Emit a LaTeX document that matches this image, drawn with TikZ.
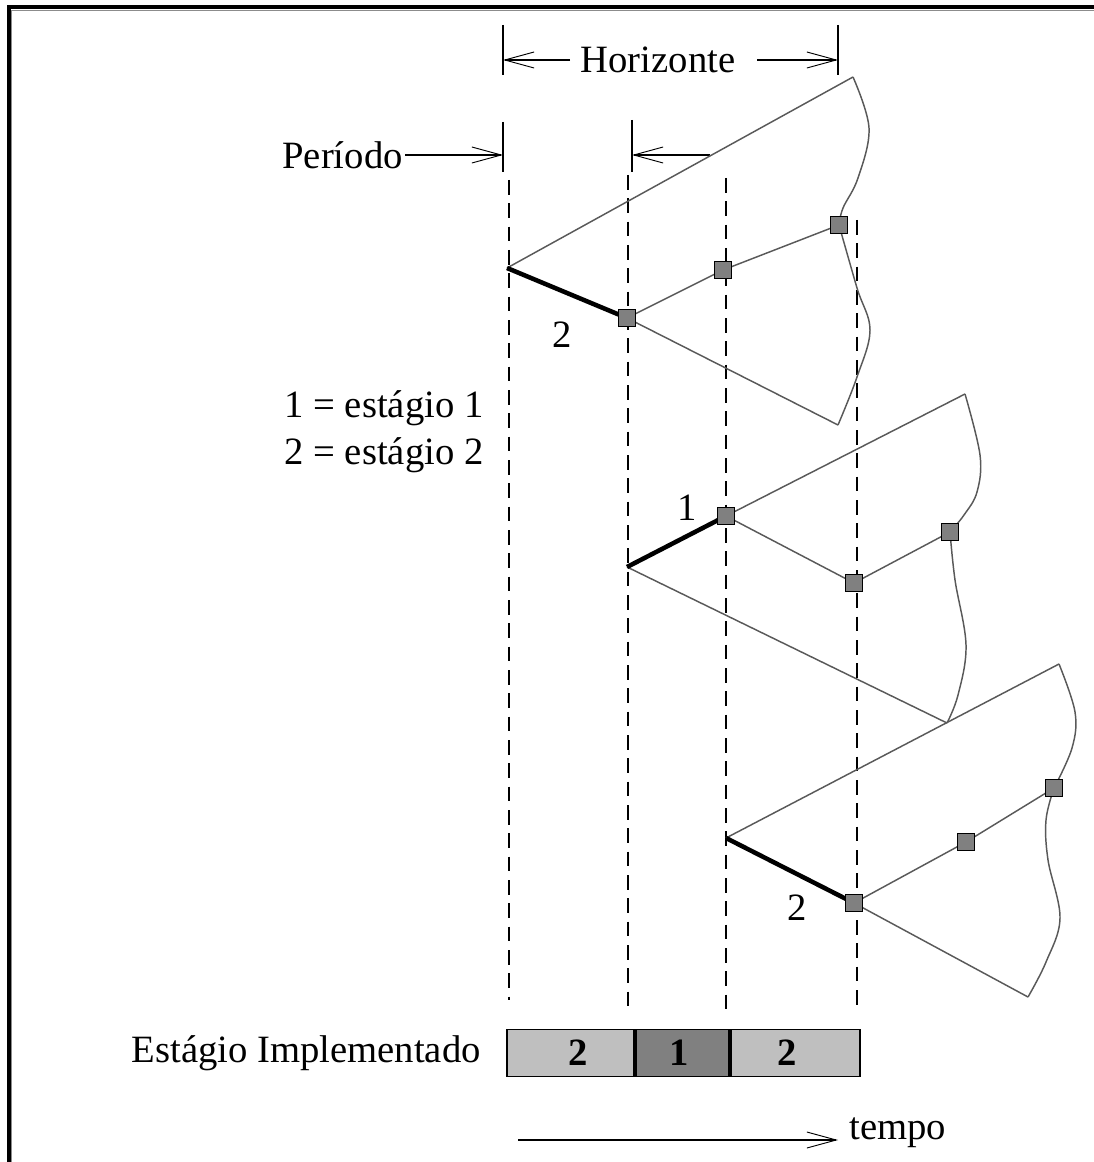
\documentclass[tikz,border=0pt]{standalone}
\usepackage{fontspec}
\setmainfont{Liberation Serif}
\usetikzlibrary{arrows.meta}
\begin{document}
\begin{tikzpicture}[x=0.75pt,y=-0.75pt,
  txt/.style={font=\fontsize{29}{34}\selectfont, inner sep=0pt},
  edge/.style={draw=black!65, line width=1.1pt},
  thickedge/.style={draw=black, line width=3.4pt},
  guide/.style={draw=black, line width=1.8pt, dash pattern=on 11pt off 6.5pt},
  sq/.style={draw=black, fill=black!50, line width=1.1pt, minimum size=12.5pt, inner sep=0pt},
  tickline/.style={line width=1.6pt},
  dim/.style={line width=1.3pt, -{Straight Barb[length=22pt,width=12pt,line width=0.7pt]}},
  barcell/.style={draw=black, line width=1.4pt, minimum height=35.25pt, inner sep=0pt, anchor=west, font=\fontsize{29}{34}\selectfont\bfseries},
]
\useasboundingbox (0,0) rectangle (1094,1162);
% frame
\draw[black!45, line width=0.9pt] (11,1162) -- (11,10.5) -- (1094,10.5);
\draw[line width=3pt] (8.5,1162) -- (8.5,7) -- (1094,7);

% dashed guides
\coordinate (g1a) at (509,180); \coordinate (g1b) at (509,1000);
\coordinate (g2a) at (628,175); \coordinate (g2b) at (628,1015);
\coordinate (g3a) at (726,178); \coordinate (g3b) at (726,1015);
\coordinate (g4a) at (857,220); \coordinate (g4b) at (857,1005);
\draw[guide] (g1a) -- (g1b);
\draw[guide] (g2a) -- (g2b);
\draw[guide] (g3a) -- (g3b);
\draw[guide] (g4a) -- (g4b);

% Horizonte
\coordinate (h0t) at (503,25); \coordinate (h0b) at (503,75);
\coordinate (h1t) at (838,25); \coordinate (h1b) at (838,75);
\draw[tickline] (h0t) -- (h0b);
\draw[tickline] (h1t) -- (h1b);
\node[txt] (hz) at (658,60) {Horizonte};
\coordinate (hl0) at (570,60); \coordinate (hl1) at (503,60);
\coordinate (hr0) at (757,60); \coordinate (hr1) at (838,60);
\draw[dim] (hl0) -- (hl1);
\draw[dim] (hr0) -- (hr1);

% Periodo
\coordinate (p0t) at (503,122); \coordinate (p0b) at (503,172);
\coordinate (p1t) at (632,120); \coordinate (p1b) at (632,172);
\draw[tickline] (p0t) -- (p0b);
\draw[tickline] (p1t) -- (p1b);
\node[txt, anchor=east] (per) at (403,155) {Período};
\coordinate (pa0) at (405,155); \coordinate (pa1) at (503,155);
\coordinate (pb0) at (710,155); \coordinate (pb1) at (632,155);
\draw[dim] (pa0) -- (pa1);
\draw[dim] (pb0) -- (pb1);

% Triangle 1
\coordinate (a1) at (507,268);
\coordinate (u1) at (853,77);
\coordinate (d1) at (838,425);
\coordinate (c11) at (627,318);
\coordinate (c12) at (723,270);
\coordinate (c13) at (839,225);
\draw[edge] (a1) -- (u1);
\draw[edge] (c11) -- (d1);
\draw[edge] (c11) -- (c12) -- (c13);
\draw[edge] plot[smooth, tension=0.6] coordinates {(u1) (869,128) (858,178) (843,208) (c13)};
\draw[edge] plot[smooth, tension=0.6] coordinates {(c13) (857,288) (870,330) (857,377) (d1)};
\draw[thickedge] (a1) -- (c11);
\node[sq] (s11) at (c11) {};
\node[sq] (s12) at (c12) {};
\node[sq] (s13) at (c13) {};
\node[txt] (l1) at (562,335) {2};

% Triangle 2
\coordinate (a2) at (627,567);
\coordinate (u2) at (965,394);
\coordinate (d2) at (947,723);
\coordinate (c21) at (726,516);
\coordinate (c22) at (854,583);
\coordinate (c23) at (950,532);
\draw[edge] (c21) -- (u2);
\draw[edge] (a2) -- (d2);
\draw[edge] (c21) -- (c22) -- (c23);
\draw[edge] plot[smooth, tension=0.6] coordinates {(u2) (980,455) (977,492) (964,515) (c23)};
\draw[edge] plot[smooth, tension=0.6] coordinates {(c23) (955,580) (966,645) (958,695) (d2)};
\draw[thickedge] (a2) -- (c21);
\node[sq] (s21) at (c21) {};
\node[sq] (s22) at (c22) {};
\node[sq] (s23) at (c23) {};
\node[txt] (l2) at (687,508) {1};

% Triangle 3
\coordinate (a3) at (726,838);
\coordinate (u3) at (1059,664);
\coordinate (d3) at (1028,997);
\coordinate (c31) at (854,903);
\coordinate (c32) at (966,842);
\coordinate (c33) at (1054,788);
\draw[edge] (a3) -- (u3);
\draw[edge] (c31) -- (d3);
\draw[edge] (c31) -- (c32) -- (c33);
\draw[edge] plot[smooth, tension=0.6] coordinates {(u3) (1075,712) (1072,748) (c33)};
\draw[edge] plot[smooth, tension=0.6] coordinates {(c33) (1046,820) (1048,860) (1060,918) (1046,962) (d3)};
\draw[thickedge] (a3) -- (c31);
\node[sq] (s31) at (c31) {};
\node[sq] (s32) at (c32) {};
\node[sq] (s33) at (c33) {};
\node[txt] (l3) at (797,908) {2};

% legend
\node[txt] (leg1) at (384,408) {1 = estágio 1};
\node[txt] (leg2) at (384,455) {2 = estágio 2};

% implemented stage bar
\node[barcell, fill=black!25, minimum width=95.25pt] (b1) at (506,1053) {\hspace*{12pt}2};
\node[barcell, fill=black!50, minimum width=69.75pt] (b2) at (b1.east) {1\hspace*{4pt}};
\node[barcell, fill=black!25, minimum width=96.75pt] (b3) at (b2.east) {2\hspace*{12pt}};
\node[txt, anchor=east] (impl) at (481,1053) {Estágio Implementado};

% tempo
\coordinate (t0) at (518,1140); \coordinate (t1) at (838,1140);
\draw[dim] (t0) -- (t1);
\node[txt, anchor=west] (tempo) at (849,1133) {tempo};
\end{tikzpicture}
\end{document}
